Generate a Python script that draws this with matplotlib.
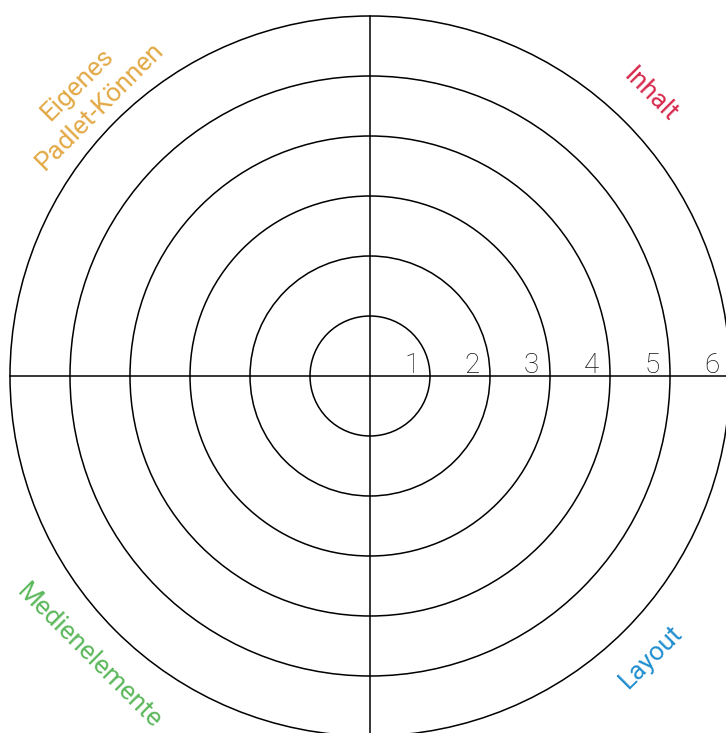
import numpy as np
import matplotlib as mpl
from matplotlib import pyplot as plt

mpl.rcParams['font.family'] = ['Roboto', 'DejaVu Sans']

rings = [1, 2, 3, 4, 5, 6]
ring_labels = ['1', '2', '3', '4', '5', '6']
categories = ['Inhalt', 'Eigenes\nPadlet-Können', 'Medienelemente', 'Layout']
angles = [45, 135, 225, 315]
rotations = [-45, 45, -45, 45]
colors = ['#d62a4d', '#e2a945', '#5cb85c', '#1f8ecf']

fig = plt.figure(figsize=(7.26, 7.33), dpi=100)
ax = fig.add_axes([0, 0, 1, 1])
ax.set_xlim(-370 / 60, 356 / 60)
ax.set_ylim(-357 / 60, 376 / 60)
ax.set_aspect('equal')
ax.axis('off')

for r in rings:
    ax.add_patch(plt.Circle((0, 0), r, fill=False, color='black', lw=1.1))

rmax = max(rings)
ax.plot([-rmax, rmax], [0, 0], color='black', lw=1.1)
ax.plot([0, 0], [-rmax, rmax], color='black', lw=1.1)

for r, lab in zip(rings, ring_labels):
    ax.text(r - 0.18, 0.05, lab, ha='right', va='baseline', fontsize=20,
            fontweight='light', color='#111111')

for name, a, rot, c in zip(categories, angles, rotations, colors):
    x = 6.62 * np.cos(np.radians(a))
    y = 6.62 * np.sin(np.radians(a))
    ax.text(x, y, name, ha='center', va='center', rotation=rot,
            rotation_mode='anchor', fontsize=18.8, fontweight='normal',
            color=c, linespacing=1.4, multialignment='center')

fig.savefig('out.png', dpi=100)
